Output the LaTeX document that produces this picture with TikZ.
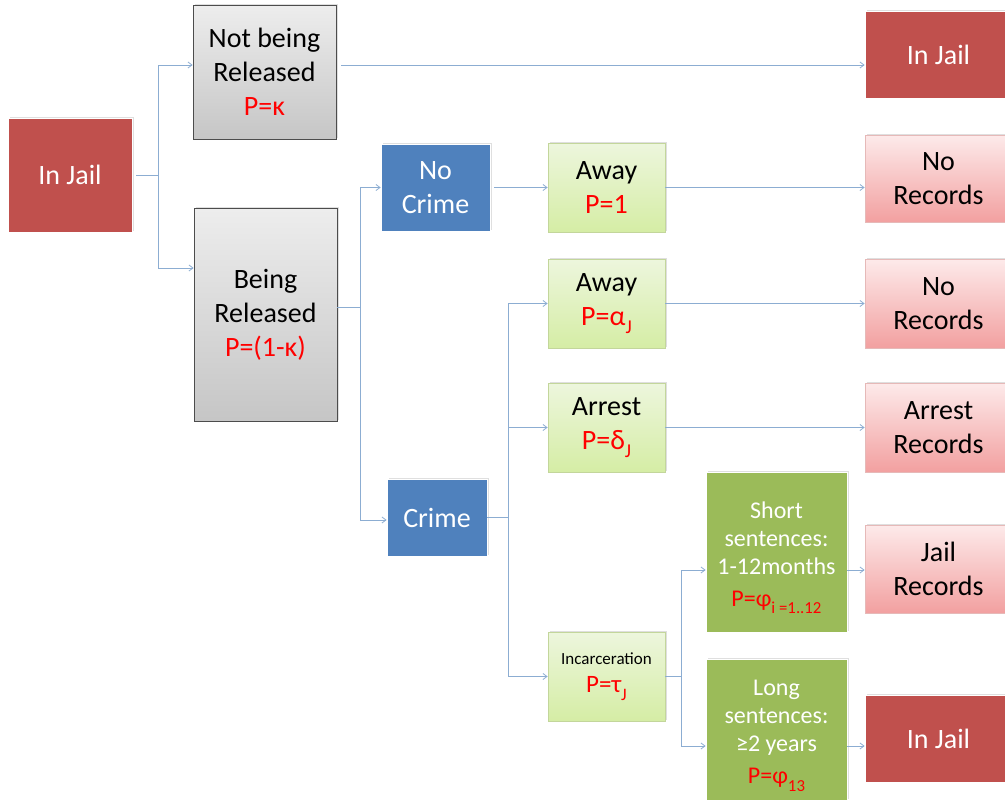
\documentclass[tikz,border=0pt]{standalone}
\usepackage{fontspec}
\setmainfont{Carlito}
\usetikzlibrary{arrows.meta,shadows}
\definecolor{cred}{HTML}{C0504D}
\definecolor{cblue}{HTML}{4F81BD}
\definecolor{colive}{HTML}{9BBB59}
\definecolor{cconn}{HTML}{8CADD2}
\definecolor{cptext}{HTML}{FF0000}
\tikzset{
  box/.style={rectangle, inner sep=0pt, align=center, drop shadow={opacity=0.25, shadow xshift=1.5pt, shadow yshift=1.5pt}},
  big/.style={font=\fontsize{28}{34}\selectfont},
  mid/.style={font=\fontsize{24}{28}\selectfont},
  redbox/.style={box, big, fill=cred, text=white, draw=white, line width=0.8pt},
  bluebox/.style={box, big, fill=cblue, text=white, draw=white, line width=0.8pt},
  olivebox/.style={box, mid, fill=colive, text=white, draw=white, line width=0.8pt},
  greybox/.style={box, big, top color=gray!14, bottom color=gray!45, draw=gray!60!black, line width=0.8pt},
  lgbox/.style={box, big, top color={rgb,255:red,237;green,246;blue,221}, bottom color={rgb,255:red,213;green,237;blue,165}, draw={rgb,255:red,195;green,214;blue,155}, line width=0.8pt},
  pinkbox/.style={box, big, top color={rgb,255:red,253;green,234;blue,234}, bottom color={rgb,255:red,242;green,160;blue,160}, draw={rgb,255:red,230;green,185;blue,184}, line width=0.8pt},
  conn/.style={draw=cconn, line width=0.8pt},
  arr/.style={conn, -{Straight Barb[length=4pt,width=6pt]}},
}
\newcommand{\pr}[1]{{\color{cptext}#1}}
\newcommand{\sbs}[1]{\raisebox{-0.3em}{\fontsize{0.7em}{1em}\selectfont #1}}
\begin{document}
\begin{tikzpicture}[x=1pt,y=-1pt]
\useasboundingbox (0,0) rectangle (1005,804);
\clip (0,0) rectangle (1005,804);
% nodes
\node[redbox, minimum width=124pt, minimum height=114pt] (inL) at (70,175) {In Jail};
\node[greybox, minimum width=143pt, minimum height=134pt] (nbr) at (264.5,72) {Not being\\Released\\\pr{P=κ}};
\node[greybox, minimum width=143pt, minimum height=213pt] (br) at (265.5,314.5) {Being\\Released\\\pr{P=(1-κ)}};
\node[bluebox, minimum width=109pt, minimum height=87pt] (nocrime) at (435.5,187.5) {No\\Crime};
\node[bluebox, minimum width=100pt, minimum height=77pt] (crime) at (437,517.5) {Crime};
\node[lgbox, minimum width=117pt, minimum height=89pt] (away1) at (606.5,187.5) {Away\\\pr{P=1}};
\node[lgbox, minimum width=117pt, minimum height=89pt] (away2) at (606.5,303.5) {Away\\\pr{P=α\sbs{J}}};
\node[lgbox, minimum width=117pt, minimum height=89pt] (arrest) at (606.5,427.5) {Arrest\\\pr{P=δ\sbs{J}}};
\node[lgbox, minimum width=117pt, minimum height=89pt, font=\fontsize{25}{28}\selectfont] (incarc) at (606.5,676.5) {{\fontsize{17}{20}\selectfont Incarceration}\\\pr{P=τ\sbs{J}}};
\node[olivebox, minimum width=141pt, minimum height=160pt] (short) at (776.5,552) {\rule{0pt}{28pt}Short\\sentences:\\1-12months\\[4pt]\pr{P=φ\sbs{i =1..12}}};
\node[olivebox, minimum width=141pt, minimum height=141pt] (long) at (776.5,729.5) {\rule{0pt}{28pt}Long\\sentences:\\≥2 years\\[4pt]\pr{P=φ\sbs{13}}};
\node[redbox, minimum width=147pt, minimum height=87pt] (jail1) at (938.5,54.5) {In Jail};
\node[pinkbox, minimum width=147pt, minimum height=87pt] (norec1) at (938.5,178.5) {No\\Records};
\node[pinkbox, minimum width=147pt, minimum height=89pt] (norec2) at (938.5,303.5) {No\\Records};
\node[pinkbox, minimum width=147pt, minimum height=89pt] (arrestrec) at (938.5,427.5) {Arrest\\Records};
\node[pinkbox, minimum width=147pt, minimum height=88pt] (jailrec) at (938.5,569) {Jail\\Records};
\node[redbox, minimum width=147pt, minimum height=87pt] (jail2) at (938.5,738.5) {In Jail};
% branch points
\coordinate (b1) at (158,175);
\coordinate (b2) at (360,307);
\coordinate (b3) at (508,517.5);
\coordinate (b4) at (681,676.5);
% connectors
\draw[conn, shorten <=4pt] (inL.east) -- (b1);
\draw[arr] (b1) |- ([yshift=7pt]nbr.west);
\draw[arr] (b1) |- ([yshift=46.5pt]br.west);
\draw[arr, shorten <=5pt] ([yshift=7pt]nbr.east) -- ([yshift=-10.5pt]jail1.west);
\draw[conn] ([yshift=7.5pt]br.east) -- (b2);
\draw[arr] (b2) |- (nocrime.west);
\draw[arr] (b2) |- ([yshift=-2.5pt]crime.west);
\draw[arr, shorten <=4pt] (nocrime.east) -- (away1.west);
\draw[arr] (away1.east) -- (away1.east -| norec1.west);
\draw[conn] (crime.east) -- (b3);
\draw[arr] (b3) |- (away2.west);
\draw[arr] (b3) |- (arrest.west);
\draw[arr] (b3) |- (incarc.west);
\draw[arr] (away2.east) -- (norec2.west);
\draw[arr] (arrest.east) -- (arrestrec.west);
\draw[conn] (incarc.east) -- (b4);
\draw[arr] (b4) |- ([yshift=-18pt]short.west);
\draw[arr] (b4) |- ([yshift=-16.5pt]long.west);
\draw[arr] ([yshift=-18pt]short.east) -- ([yshift=-18pt]short.east -| jailrec.west);
\draw[arr] ([yshift=-16.5pt]long.east) -- ([yshift=-16.5pt]long.east -| jail2.west);
\end{tikzpicture}
\end{document}
